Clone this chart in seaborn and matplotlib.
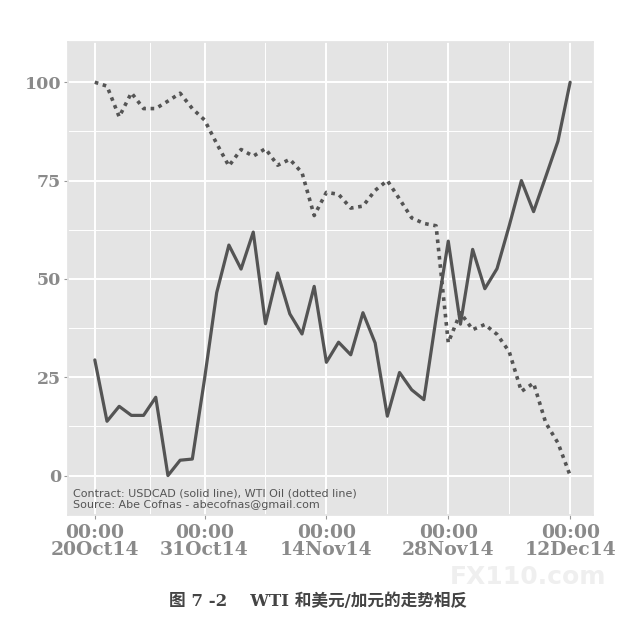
import matplotlib
matplotlib.use("Agg")
import matplotlib.pyplot as plt
import seaborn as sns
import pandas as pd

# normalised prices (0-100), one value per trading day 20Oct14 .. 12Dec14
usdcad = [29.4, 13.8, 17.6, 15.3, 15.3, 19.9, 0.0, 3.9, 4.2, 24.5,
          46.5, 58.6, 52.5, 61.9, 38.6, 51.5, 41.1, 36.0, 48.1, 28.8,
          33.9, 30.7, 41.4, 33.7, 15.1, 26.2, 21.8, 19.3, 40.0, 59.6,
          38.5, 57.5, 47.5, 52.6, 63.5, 75.0, 67.1, 76.0, 85.0, 100.0]
wti = [100.0, 99.0, 91.2, 97.3, 93.3, 93.3, 95.2, 97.2, 93.3, 90.4,
       84.4, 78.7, 82.9, 81.2, 83.1, 78.9, 80.4, 77.0, 66.1, 72.0,
       71.5, 68.0, 68.5, 72.5, 75.0, 70.3, 65.5, 64.1, 63.5, 33.8,
       41.4, 37.1, 38.4, 35.9, 31.5, 21.4, 23.5, 13.4, 8.3, 0.0]
tick_dates = ['2014-10-20', '2014-10-31', '2014-11-14', '2014-11-28', '2014-12-12']
tick_labels = ['00:00\n20Oct14', '00:00\n31Oct14', '00:00\n14Nov14',
               '00:00\n28Nov14', '00:00\n12Dec14']
y_ticks = [0, 25, 50, 75, 100]
note = 'Contract: USDCAD (solid line), WTI Oil (dotted line)\nSource: Abe Cofnas - abecofnas@gmail.com'
caption = '图 7 -2    WTI 和美元/加元的走势相反'

days = pd.bdate_range('2014-10-20', '2014-12-12')
df = pd.DataFrame({'day': range(len(days)), 'date': days, 'usdcad': usdcad, 'wti': wti})

sns.set_theme(style='darkgrid', rc={
    'axes.facecolor': '#e4e4e4',
    'grid.color': 'white',
    'axes.edgecolor': '#e4e4e4',
})
plt.rcParams['font.family'] = ['DejaVu Sans', 'Noto Sans CJK SC']

fig = plt.figure(figsize=(6.36, 6.22), dpi=100)
ax = fig.add_axes([68 / 636, 1 - 514.5 / 622, (593.3 - 68) / 636, (514.5 - 41.7) / 622])

sns.lineplot(data=df, x='day', y='usdcad', ax=ax, color='#545454', linewidth=2.3)
sns.lineplot(data=df, x='day', y='wti', ax=ax, color='#545454', linewidth=2.6,
             dashes=False)
ax.lines[-1].set_linestyle((0, (1, 1.3)))

ax.set_xlim(-2.2, 40.9)
ax.set_ylim(-9.9, 110.3)

pos = [int(df.index[df['date'] == pd.Timestamp(d)][0]) for d in tick_dates]
ax.set_xticks(pos)
ax.set_xticks([(a + b) / 2 for a, b in zip(pos[:-1], pos[1:])], minor=True)
ax.set_yticks(y_ticks)
ax.set_yticks([v + 12.5 for v in y_ticks[:-1]], minor=True)
ax.grid(which='major', color='white', linewidth=1.4)
ax.grid(which='minor', color='white', linewidth=0.7)

serif = ['DejaVu Serif']
ax.set_xticklabels(tick_labels, fontsize=13.5, fontweight='bold', color='#8a8a8a',
                   family=serif, linespacing=0.95)
ax.set_yticklabels([str(v) for v in y_ticks], fontsize=12.5, fontweight='bold',
                   color='#8a8a8a', family=serif)
ax.tick_params(axis='x', which='major', pad=3.5)
ax.tick_params(axis='both', which='major', length=3, width=0.8, color='#999999',
               bottom=True, left=True)
ax.tick_params(axis='y', which='major', pad=2)
ax.tick_params(axis='both', which='minor', length=0)
ax.set_xlabel('')
ax.set_ylabel('')

ax.text(0.010, 0.010, note, transform=ax.transAxes, fontsize=8, color='#555555',
        ha='left', va='bottom', linespacing=1.1)

fig.text(318 / 636, 1 - 601 / 622, caption, ha='center', va='center', fontsize=12,
         fontweight='bold', color='#444444', family=['DejaVu Serif', 'Noto Sans CJK SC'])
fig.text(528 / 636, 1 - 577 / 622, 'FX110.com', ha='center', va='center', fontsize=18,
         fontweight='bold', color='#efefef', family=['DejaVu Sans'])

fig.savefig('out.png', dpi=100)
